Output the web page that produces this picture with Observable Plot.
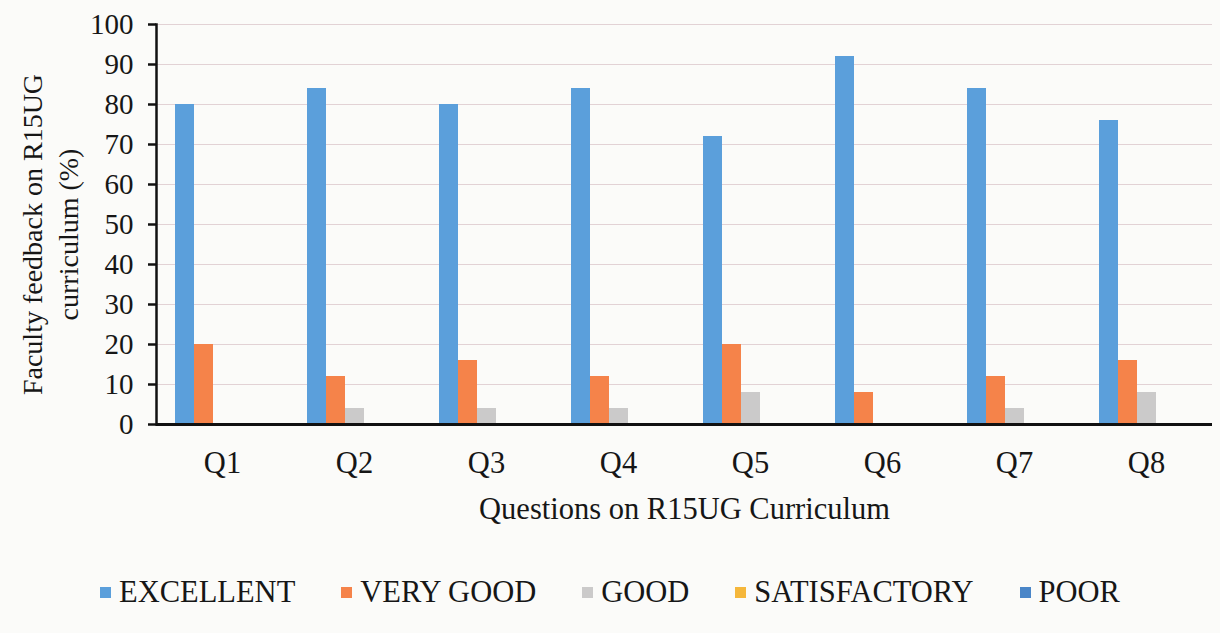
<!DOCTYPE html>
<html>
<head>
<meta charset="utf-8">
<script src="https://cdn.jsdelivr.net/npm/d3@7"></script>
<script src="https://cdn.jsdelivr.net/npm/@observablehq/plot@0.6"></script>
<style>
  html, body { margin: 0; padding: 0; background: #fbfbf9; }
  body { width: 1220px; height: 633px; overflow: hidden; font-family: "Liberation Serif", "Times New Roman", serif; color: #161616; }
  #legend { display: flex; justify-content: center; align-items: center; gap: 46px; height: 93px; margin-top: 6px; font-size: 30.5px; box-sizing: border-box; }
  .item { display: flex; align-items: center; gap: 8px; }
  .sw { width: 11px; height: 11px; display: inline-block; }
</style>
</head>
<body>
<div id="chart"></div>
<div id="legend"></div>
<script>
const questions = ["Q1", "Q2", "Q3", "Q4", "Q5", "Q6", "Q7", "Q8"];
const ratings = ["EXCELLENT", "VERY GOOD", "GOOD", "SATISFACTORY", "POOR"];
const excellent    = [80, 84, 80, 84, 72, 92, 84, 76];
const veryGood     = [20, 12, 16, 12, 20, 8, 12, 16];
const good         = [0, 4, 4, 4, 8, 0, 4, 8];
const satisfactory = [0, 0, 0, 0, 0, 0, 0, 0];
const poor         = [0, 0, 0, 0, 0, 0, 0, 0];
const colors = ["#5B9FDB", "#F5834A", "#CBCACA", "#F5B73B", "#4A86C8"];
const yTicks = [0, 10, 20, 30, 40, 50, 60, 70, 80, 90, 100];
const yLabel = "Faculty feedback on R15UG\ncurriculum (%)";
const xLabel = "Questions on R15UG Curriculum";

const series = [excellent, veryGood, good, satisfactory, poor];
const data = questions.flatMap((q, i) => ratings.map((r, j) => ({q, r, v: series[j][i]})));

const chart = Plot.plot({
  width: 1220,
  height: 540,
  marginTop: 24,
  marginBottom: 116,
  marginLeft: 153,
  marginRight: 5,
  style: {fontFamily: "'Liberation Serif', 'Times New Roman', serif", fontSize: "30px", color: "#161616", background: "transparent", overflow: "visible"},
  fx: {domain: questions, padding: 0, label: null, axis: null},
  x: {domain: ratings, paddingInner: 0, paddingOuter: 0.82, axis: null},
  y: {domain: [0, 100], label: null},
  color: {domain: ratings, range: colors},
  marks: [
    Plot.ruleY(yTicks, {stroke: "#e2d2d5", strokeWidth: 1}),
    Plot.barY(data, {fx: "q", x: "r", y: "v", fill: "r"}),
    Plot.axisY({ticks: yTicks, tickSize: 8, tickPadding: 15, stroke: "#111", strokeWidth: 2.5, label: null, fontSize: 29}),
    Plot.axisFx({anchor: "bottom", tickSize: 0, tickPadding: 27, label: null, fontSize: 30.5}),
    Plot.ruleY([0], {stroke: "#111", strokeWidth: 3}),
    Plot.frame({anchor: "left", facet: "super", stroke: "#111", strokeWidth: 2.5}),
    Plot.text([yLabel], {text: d => d, facet: "super", frameAnchor: "left", textAnchor: "middle", rotate: -90, dx: -108, dy: 10, fontSize: 28, lineHeight: 1.3, fill: "#161616"}),
    Plot.text([xLabel], {text: d => d, facet: "super", frameAnchor: "bottom", dy: 94, fontSize: 30.5, fill: "#161616"})
  ]
});
document.getElementById("chart").appendChild(chart);

const legend = d3.select("#legend");
ratings.forEach((r, i) => {
  const item = legend.append("div").attr("class", "item");
  item.append("span").attr("class", "sw").style("background", colors[i]);
  item.append("span").text(r);
});
</script>
</body>
</html>
